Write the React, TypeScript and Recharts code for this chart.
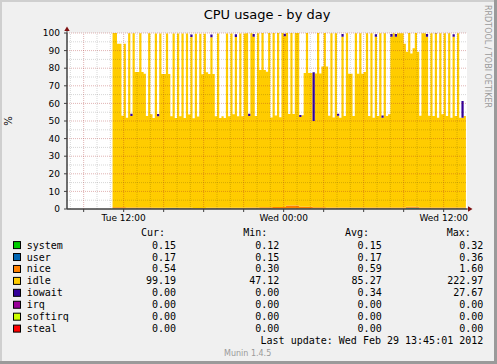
import React from 'react';
import { ComposedChart, Area, XAxis, YAxis, ReferenceLine } from 'recharts';

const W = 497;
const H = 364;

// time axis in hours from Tue 00:00; samples every 10 minutes starting Tue 11:10
const START_HOUR = 11 + 10 / 60;
const STEP_HOURS = 10 / 60;
const X_DOMAIN: [number, number] = [7.75, 37.75];

const IDLE = [
  99, 99, 93, 93, 52, 93, 51, 99, 52, 99,
  77, 77, 99, 77, 76, 52, 99, 53, 51, 99,
  52, 99, 76, 76, 99, 76, 52, 99, 51, 99,
  52, 99, 51, 99, 53, 97, 51, 99, 52, 99,
  76, 99, 77, 76, 97, 76, 52, 99, 51, 52,
  51, 99, 52, 99, 53, 97, 52, 99, 52, 99,
  99, 52, 99, 97, 52, 99, 78, 99, 78, 77,
  99, 51, 99, 52, 99, 51, 99, 97, 99, 52,
  99, 52, 99, 99, 51, 52, 76, 99, 76, 76,
  49, 76, 99, 76, 80, 99, 80, 52, 99, 51,
  99, 52, 51, 97, 52, 99, 76, 76, 52, 99,
  76, 99, 76, 77, 99, 52, 99, 51, 97, 52,
  99, 51, 99, 52, 53, 97, 99, 97, 99, 99,
  99, 93, 88, 99, 87, 90, 99, 88, 52, 99,
  99, 97, 52, 99, 52, 99, 51, 99, 53, 99,
  52, 99, 51, 97, 52, 99, 51, 51, 52, 99,
];

// [sample index, iowait value]
const IOWAIT_SPIKES: [number, number][] = [
  [8, 1.2], [20, 1.2], [35, 1.5], [44, 1.5], [55, 1.5], [61, 1.2], [63, 1.5],
  [77, 1.5], [84, 1.2], [90, 27.67], [101, 1.2], [103, 1.5], [118, 1.5],
  [121, 1.2], [125, 1.5], [127, 1.5], [141, 1.5], [145, 1.2], [153, 1.5], [157, 9.5],
];

// hourly readings (Tue 11:00 .. Wed 13:00)
const SYSTEM_HOURLY = [0.16, 0.15, 0.14, 0.15, 0.17, 0.16, 0.15, 0.14, 0.13, 0.12, 0.13, 0.14, 0.15, 0.16, 0.15, 0.14, 0.15, 0.17, 0.18, 0.16, 0.15, 0.14, 0.32, 0.15, 0.16, 0.15, 0.15];
const USER_HOURLY = [0.18, 0.17, 0.16, 0.17, 0.19, 0.18, 0.17, 0.16, 0.15, 0.15, 0.16, 0.17, 0.17, 0.18, 0.17, 0.16, 0.17, 0.19, 0.2, 0.18, 0.17, 0.16, 0.36, 0.17, 0.18, 0.17, 0.17];
const NICE_HOURLY = [0.6, 0.55, 0.5, 0.45, 0.4, 0.35, 0.3, 0.35, 0.4, 0.5, 0.6, 0.7, 0.8, 1.6, 0.9, 0.7, 0.6, 0.55, 0.5, 0.5, 0.55, 0.6, 0.65, 0.6, 0.55, 0.54, 0.54];

const SERIES = ['system', 'user', 'nice', 'idle', 'iowait', 'irq', 'softirq', 'steal'];
const COLORS = ['#00CC00', '#0066B3', '#FF8000', '#FFCC00', '#330099', '#990099', '#CCFF00', '#FF0000'];
const CUR = ['0.15', '0.17', '0.54', '99.19', '0.00', '0.00', '0.00', '0.00'];
const MIN = ['0.12', '0.15', '0.30', '47.12', '0.00', '0.00', '0.00', '0.00'];
const AVG = ['0.15', '0.17', '0.59', '85.27', '0.34', '0.00', '0.00', '0.00'];
const MAX = ['0.32', '0.36', '1.60', '222.97', '27.67', '0.00', '0.00', '0.00'];

const X_TICKS = [9, 12, 15, 18, 21, 24, 27, 30, 33, 36];
const X_LABEL_TICKS = [12, 24, 36];
const X_LABELS = ['Tue 12:00', 'Wed 00:00', 'Wed 12:00'];
const X_MINOR_GRID = [8, 10, 11, 13, 14, 16, 17, 19, 20, 22, 23, 25, 26, 28, 29, 31, 32, 34, 35, 37];
const Y_TICKS = [0, 10, 20, 30, 40, 50, 60, 70, 80, 90, 100];
const Y_MINOR_GRID = [5, 15, 25, 35, 45, 55, 65, 75, 85, 95];

const data = IDLE.map((idle, i) => {
  const h = Math.floor(i / 6);
  const io = IOWAIT_SPIKES.find(([k]) => k === i);
  return {
    t: START_HOUR + i * STEP_HOURS,
    system: SYSTEM_HOURLY[h],
    user: USER_HOURLY[h],
    nice: NICE_HOURLY[h],
    idle,
    iowait: io ? io[1] : 0,
    irq: 0,
    softirq: 0,
    steal: 0,
  };
});

const SANS = 'DejaVu Sans, sans-serif';
const MONO = 'DejaVu Sans Mono, monospace';

const MINOR = 'rgba(0,0,0,0.16)';
const MAJOR = 'rgba(170,40,40,0.35)';
const AXIS = '#404040';

export default function App() {
  const rowY = (k: number) => 248.6 + k * 11.93;
  const gridProps: any = { zIndex: 600, strokeDasharray: '1 1' };
  return (
    <div style={{ position: 'absolute', left: 0, top: 0, width: W, height: H, background: '#F0F0F0', overflow: 'hidden' }}>
      <div style={{ position: 'absolute', left: 67, top: 33, width: 400, height: 176, background: '#FFFFFF' }} />
      <div style={{ position: 'absolute', left: 0, top: 0 }}>
        <ComposedChart width={W} height={H} data={data} margin={{ top: 33, right: 30, bottom: 125, left: 7 }}>
          <XAxis
            type="number"
            dataKey="t"
            domain={X_DOMAIN}
            allowDataOverflow
            ticks={X_TICKS}
            interval={0}
            height={30}
            tickSize={3}
            tickMargin={3}
            axisLine={{ stroke: AXIS }}
            tickLine={{ stroke: AXIS }}
            tick={{ fontSize: 9, fill: '#000', fontFamily: SANS }}
            tickFormatter={(v: number) => {
              const k = X_LABEL_TICKS.indexOf(v);
              return k >= 0 ? X_LABELS[k] : '';
            }}
          />
          <YAxis
            type="number"
            domain={[0, 100]}
            allowDataOverflow
            ticks={Y_TICKS}
            interval={0}
            width={60}
            tickSize={3}
            tickMargin={4}
            axisLine={{ stroke: AXIS }}
            tickLine={{ stroke: AXIS }}
            tick={{ fontSize: 9, fill: '#000', fontFamily: SANS }}
          />
          {SERIES.map((s, k) => (
            <Area
              key={s}
              type="stepAfter"
              dataKey={s}
              stackId="cpu"
              stroke="none"
              fill={COLORS[k]}
              fillOpacity={1}
              isAnimationActive={false}
              dot={false}
              activeDot={false}
            />
          ))}
          {Y_MINOR_GRID.map((v) => (
            <ReferenceLine key={'ym' + v} y={v} stroke={MINOR} {...gridProps} />
          ))}
          {Y_TICKS.filter((v) => v > 0).map((v) => (
            <ReferenceLine key={'yM' + v} y={v} stroke={MAJOR} {...gridProps} />
          ))}
          {X_MINOR_GRID.map((v) => (
            <ReferenceLine key={'xm' + v} x={v} stroke={MINOR} {...gridProps} />
          ))}
          {X_TICKS.map((v) => (
            <ReferenceLine key={'xM' + v} x={v} stroke={MAJOR} {...gridProps} />
          ))}
        </ComposedChart>
      </div>
      <svg width={W} height={H} style={{ position: 'absolute', left: 0, top: 0, pointerEvents: 'none' }}>
        {/* frame */}
        <rect x={0} y={0} width={W} height={2} fill="#CFCFCF" />
        <rect x={0} y={0} width={2} height={H} fill="#CFCFCF" />
        <rect x={0} y={H - 3} width={W} height={3} fill="#9A9A9A" />
        <rect x={W - 3} y={0} width={3} height={H} fill="#9A9A9A" />
        {/* axis arrows */}
        <line x1={67} y1={209} x2={67} y2={30} stroke={AXIS} strokeWidth={1} />
        <line x1={67} y1={209} x2={469} y2={209} stroke={AXIS} strokeWidth={1} />
        <polygon points="64.3,31 69.7,31 67,26.5" fill="#7F1010" />
        <polygon points="468,206.3 468,211.7 472.5,209" fill="#7F1010" />
        {/* title and labels */}
        <text x={267} y={18.5} textAnchor="middle" fontFamily={SANS} fontSize={13} fill="#000">CPU usage - by day</text>
        <text x={11.5} y={121} textAnchor="middle" fontFamily={SANS} fontSize={10} fill="#000" transform="rotate(-90 11.5 121)">%</text>
        <text x={484.8} y={56.5} textAnchor="middle" fontFamily={SANS} fontSize={8} fill="#9A9A9A" transform="rotate(90 484.8 56.5)">RRDTOOL / TOBI OETIKER</text>
        {/* legend */}
        <g fontFamily={MONO} fontSize={10} fill="#000">
          <text x={141} y={236.3}>Cur:</text>
          <text x={243.3} y={236.3}>Min:</text>
          <text x={345} y={236.3}>Avg:</text>
          <text x={446.7} y={236.3}>Max:</text>
          {SERIES.map((s, k) => (
            <g key={s}>
              <rect x={13.5} y={rowY(k) - 7} width={7} height={7} fill={COLORS[k]} stroke="#000" strokeWidth={1} />
              <text x={26.7} y={rowY(k)}>{s}</text>
              <text x={176} y={rowY(k)} textAnchor="end">{CUR[k]}</text>
              <text x={279.3} y={rowY(k)} textAnchor="end">{MIN[k]}</text>
              <text x={381.7} y={rowY(k)} textAnchor="end">{AVG[k]}</text>
              <text x={483.3} y={rowY(k)} textAnchor="end">{MAX[k]}</text>
            </g>
          ))}
          <text x={483.3} y={rowY(8)} textAnchor="end">Last update: Wed Feb 29 13:45:01 2012</text>
        </g>
        <text x={224} y={356} fontFamily={SANS} fontSize={8} fill="#9A9A9A">Munin 1.4.5</text>
      </svg>
    </div>
  );
}
